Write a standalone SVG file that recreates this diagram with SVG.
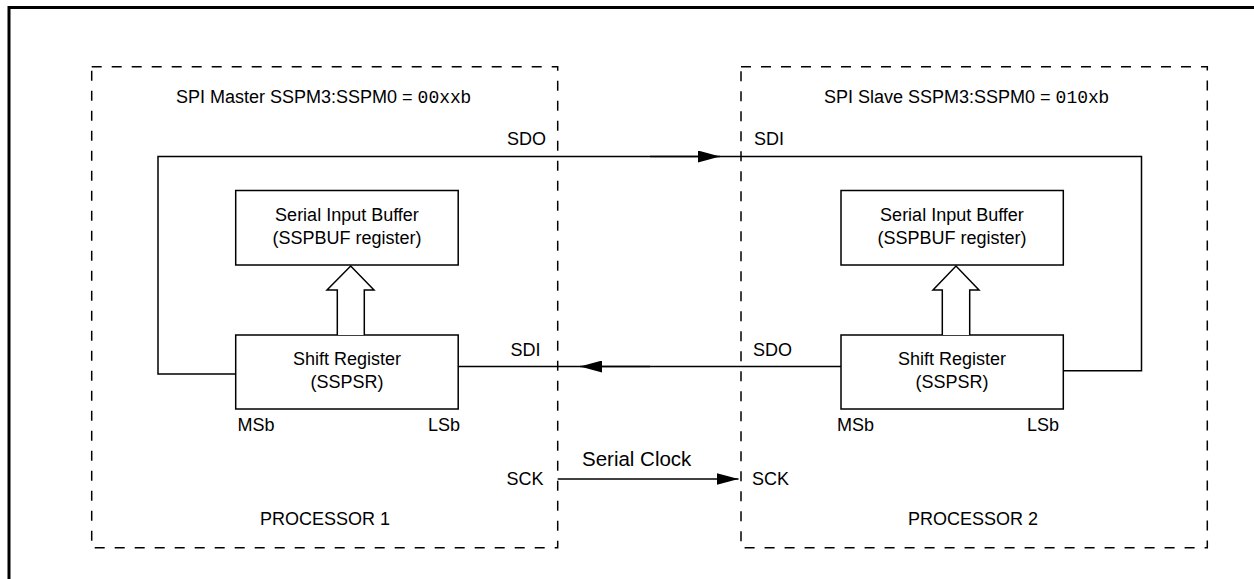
<svg xmlns="http://www.w3.org/2000/svg" width="1254" height="579" viewBox="0 0 1254 579">
  <style>
    text { font-family: "Liberation Sans", Arial, sans-serif; font-size: 18px; fill: #000; }
    .mono { font-family: "Liberation Mono", "Courier New", monospace; }
    .mid { text-anchor: middle; }
    .box { fill: #fff; stroke: #000; stroke-width: 1.5; }
    .dash { fill: none; stroke: #000; stroke-width: 1.5; stroke-dasharray: 10 10; }
    .wire { fill: none; stroke: #000; stroke-width: 1.5; }
    .hollow { fill: #fff; stroke: #000; stroke-width: 1.5; stroke-linejoin: miter; }
  </style>
  <defs>
    <marker id="arr" markerWidth="22" markerHeight="12" refX="22" refY="6" orient="auto" markerUnits="userSpaceOnUse">
      <path d="M0,0 L22,6 L0,12 Z" fill="#000"/>
    </marker>
  </defs>
  <rect width="1254" height="579" fill="#fff"/>
  <path d="M9,579 V7.5 H1254" fill="none" stroke="#000" stroke-width="3"/>

  <g id="processor1">
    <rect class="dash" x="91.7" y="66.7" width="466" height="481"/>
    <text x="176" y="103">SPI Master SSPM3:SSPM0 = <tspan class="mono">00xx</tspan>b</text>
    <text x="507" y="145">SDO</text>
    <text x="510.5" y="356">SDI</text>
    <text x="506.5" y="485">SCK</text>
    <text x="260" y="525">PROCESSOR 1</text>
  </g>
  <g id="buffer1">
    <rect class="box" x="235.7" y="190.5" width="222.5" height="74.5"/>
    <text class="mid" x="347" y="221">Serial Input Buffer</text>
    <text class="mid" x="347" y="244">(SSPBUF register)</text>
  </g>
  <g id="shift1">
    <rect class="box" x="235.7" y="335" width="222.5" height="74"/>
    <text class="mid" x="347" y="365">Shift Register</text>
    <text class="mid" x="347" y="388">(SSPSR)</text>
    <text x="237.5" y="431">MSb</text>
    <text x="428" y="431">LSb</text>
  </g>

  <g id="processor2">
    <rect class="dash" x="741" y="66.7" width="466.3" height="481"/>
    <text x="824" y="103">SPI Slave SSPM3:SSPM0 = <tspan class="mono">010x</tspan>b</text>
    <text x="754" y="145">SDI</text>
    <text x="753" y="356">SDO</text>
    <text x="752" y="485">SCK</text>
    <text x="908" y="525">PROCESSOR 2</text>
  </g>
  <g id="buffer2">
    <rect class="box" x="841" y="190.5" width="222.3" height="74.5"/>
    <text class="mid" x="952" y="221">Serial Input Buffer</text>
    <text class="mid" x="952" y="244">(SSPBUF register)</text>
  </g>
  <g id="shift2">
    <rect class="box" x="841" y="335" width="222.3" height="74"/>
    <text class="mid" x="952" y="365">Shift Register</text>
    <text class="mid" x="952" y="388">(SSPSR)</text>
    <text x="837" y="431">MSb</text>
    <text x="1027" y="431">LSb</text>
  </g>

  <g id="connectors">
    <!-- master SDO -> slave SDI loop -->
    <path class="wire" d="M235.7,374 H158 V156.5 H1141.5 V370.7 H1063.3"/>
    <path class="wire" d="M650,156.5 H720" marker-end="url(#arr)"/>
    <!-- slave SDO -> master SDI -->
    <path class="wire" d="M841,366.5 H458.2"/>
    <path class="wire" d="M650,366.5 H580" marker-end="url(#arr)"/>
    <!-- serial clock -->
    <path class="wire" d="M557.7,479 H738.5" marker-end="url(#arr)"/>
    <text x="582" y="466" style="font-size:20.5px">Serial Clock</text>
    <!-- hollow arrows shift -> buffer -->
    <path class="hollow" d="M337.3,335 V290 H327 L350.7,266 L374,290 H364.3 V335"/>
    <path class="hollow" d="M942.3,335 V290 H933 L956,266 L979,290 H969.7 V335"/>
  </g>
</svg>
